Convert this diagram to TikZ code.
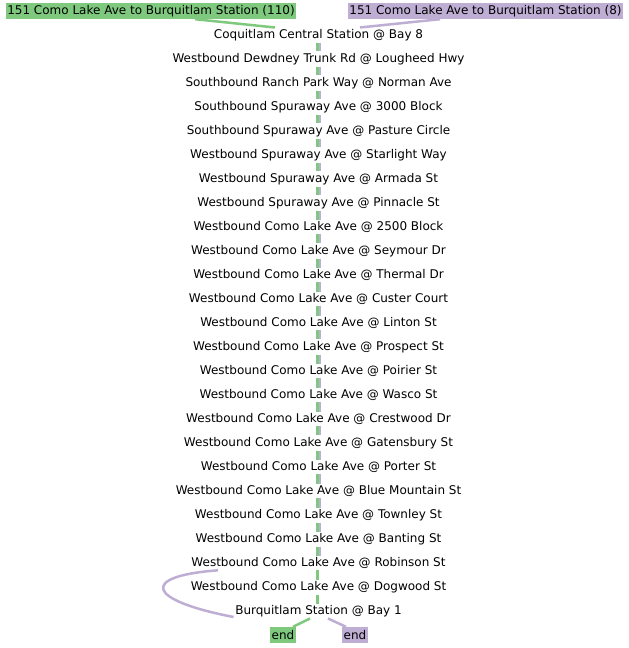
\documentclass[tikz,border=0pt]{standalone}
\usepackage{fontspec}
\setmainfont{DejaVu Sans}
\usetikzlibrary{positioning, calc}
\definecolor{RouteGreen}{HTML}{7FC97F}
\definecolor{RoutePurple}{HTML}{BEAED4}

\begin{document}
\begin{tikzpicture}[x=1pt, y=-1pt, every node/.style={font=\fontsize{12}{14}\selectfont, inner sep=1.5pt},
    stop/.style={},
    tag/.style={inner sep=1.5pt, minimum height=16pt},
    leg/.style={line width=2.5pt}]
                \useasboundingbox (0,0) rectangle (629,648);
                
                \node[tag, fill=RouteGreen] (r110) at (151,11) {151 Como Lake Ave to Burquitlam Station (110)};
                \node[tag, fill=RoutePurple] (r8) at (485.5,11) {151 Como Lake Ave to Burquitlam Station (8)};
                
                \foreach \name [count=\i] in {Coquitlam Central Station @ Bay 8, Westbound Dewdney Trunk Rd @ Lougheed Hwy, Southbound Ranch Park Way @ Norman Ave, Southbound Spuraway Ave @ 3000 Block, Southbound Spuraway Ave @ Pasture Circle, Westbound Spuraway Ave @ Starlight Way, Westbound Spuraway Ave @ Armada St, Westbound Spuraway Ave @ Pinnacle St, Westbound Como Lake Ave @ 2500 Block, Westbound Como Lake Ave @ Seymour Dr, Westbound Como Lake Ave @ Thermal Dr, Westbound Como Lake Ave @ Custer Court, Westbound Como Lake Ave @ Linton St, Westbound Como Lake Ave @ Prospect St, Westbound Como Lake Ave @ Poirier St, Westbound Como Lake Ave @ Wasco St, Westbound Como Lake Ave @ Crestwood Dr, Westbound Como Lake Ave @ Gatensbury St, Westbound Como Lake Ave @ Porter St, Westbound Como Lake Ave @ Blue Mountain St, Westbound Como Lake Ave @ Townley St, Westbound Como Lake Ave @ Banting St, Westbound Como Lake Ave @ Robinson St, Westbound Como Lake Ave @ Dogwood St, Burquitlam Station @ Bay 1}
                    \node[stop] (s\i) at (318.5,{11+24*\i}) {\name};
                
                \node[tag, fill=RouteGreen] (end110) at (283,635) {end};
                \node[tag, fill=RoutePurple] (end8) at (355,635) {end};
                
                % Arrows
                \draw[leg, RouteGreen] ([xshift=44]r110.south) -- ([xshift=-43.5]s1.north);
                \draw[leg, RoutePurple] ([xshift=-45.5]r8.south) -- ([xshift=41.5]s1.north);
                \foreach \i [evaluate=\i as \j using int(\i+1)] in {1,...,22} {
                    \draw[leg, RouteGreen] ([xshift=-1.25]s\i.south) -- ([xshift=-1.25]s\j.north);
                    \draw[leg, RoutePurple] ([xshift=1.25]s\i.south) -- ([xshift=1.25]s\j.north);
                }
                \draw[leg, RouteGreen] ([xshift=-1.25]s23.south) -- ([xshift=-1.25]s24.north);
                \draw[leg, RouteGreen] ([xshift=-1.25]s24.south) -- ([xshift=-1.25]s25.north);
                \draw[leg, RoutePurple] ([xshift=-100.5]s23.south) .. controls (140,576) and (145,600) .. ([yshift=-6]s25.west);
                \draw[leg, RouteGreen] ([xshift=-8.5]s25.south) -- ([xshift=10]end110.north);
                \draw[leg, RoutePurple] ([xshift=9.5]s25.south) -- ([xshift=-9]end8.north);
            \end{tikzpicture}
\end{document}
